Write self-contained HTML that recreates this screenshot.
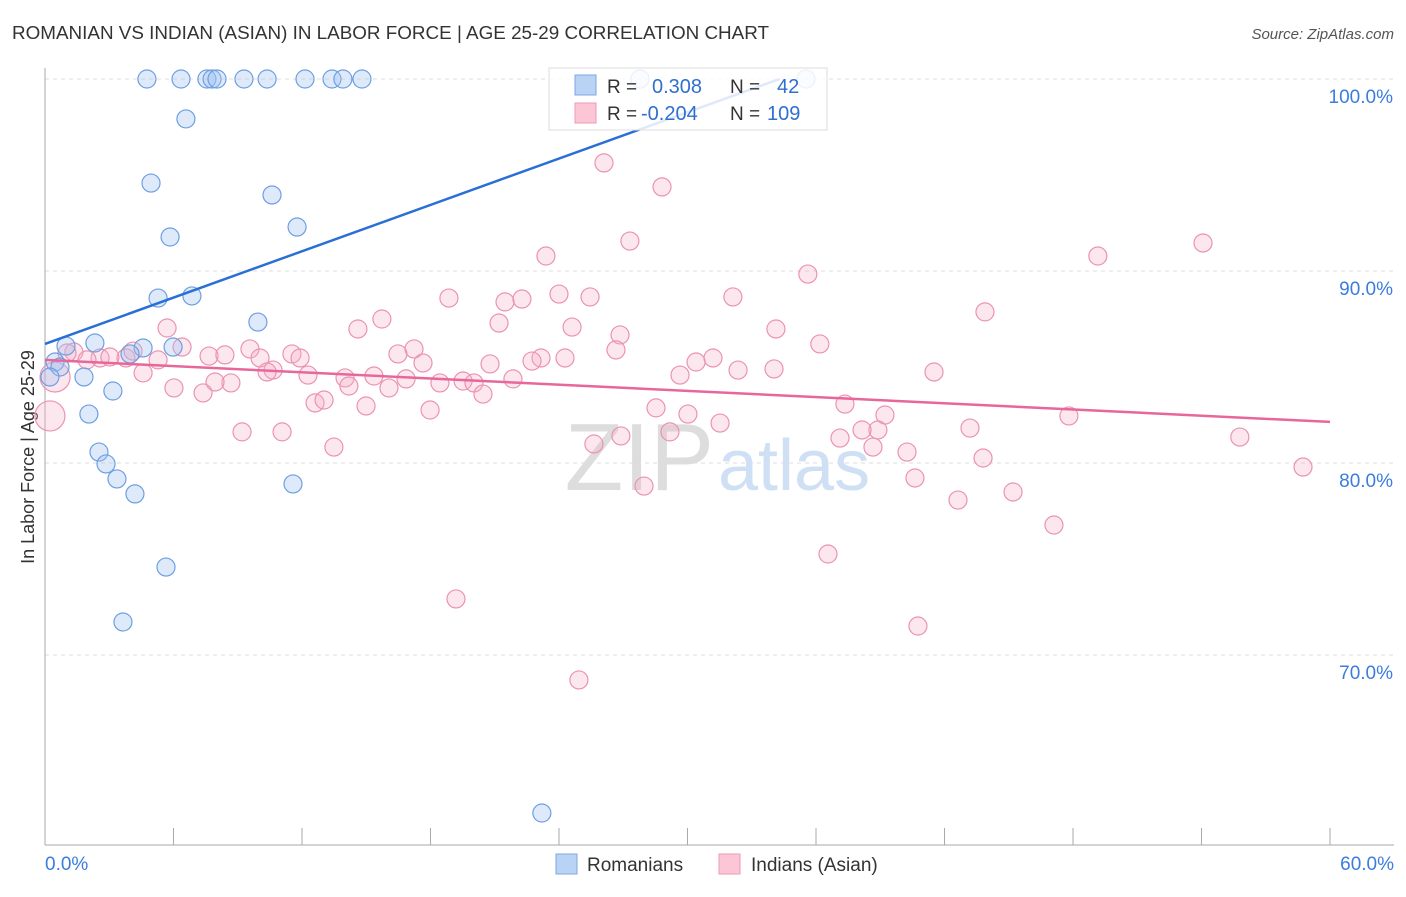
<!DOCTYPE html>
<html><head><meta charset="utf-8"><style>
body{margin:0;background:#fff;font-family:"Liberation Sans",sans-serif}
svg text{font-family:"Liberation Sans",sans-serif}
</style></head><body>
<svg id="chart" width="1406" height="892" xmlns="http://www.w3.org/2000/svg">
<text x="12" y="39" font-size="18.5" fill="#333" textLength="757" lengthAdjust="spacingAndGlyphs">ROMANIAN VS INDIAN (ASIAN) IN LABOR FORCE | AGE 25-29 CORRELATION CHART</text>
<text x="1394" y="39" font-size="15" fill="#555" font-style="italic" text-anchor="end">Source: ZipAtlas.com</text>
<text x="34" y="457" font-size="18" fill="#333" text-anchor="middle" transform="rotate(-90 34 457)">In Labor Force | Age 25-29</text>
<g id="grid"></g>
<g id="axes"></g>
<text x="714" y="490" font-size="96" fill="#ddd" text-anchor="end" font-family="Liberation Serif">ZIP</text>
<text x="718" y="490" font-size="72" fill="#cfe0f5">atlas</text>
<g id="pink"></g>
<g id="blue"></g>
<g id="trends"></g>
<g>
<rect x="549" y="68" width="278" height="62" fill="#fff" fill-opacity="0.85" stroke="#ddd"/>
<rect x="575" y="75" width="21" height="20" fill="#b9d3f5" stroke="#7aa7e3"/>
<rect x="575" y="103" width="21" height="20" fill="#fcc6d6" stroke="#eb9ab4"/>
<text x="607" y="93" font-size="19" fill="#333">R = </text><text x="652" y="93" font-size="20" fill="#2f6fd0">0.308</text>
<text x="730" y="93" font-size="19" fill="#333">N = </text><text x="777" y="93" font-size="20" fill="#2f6fd0">42</text>
<text x="607" y="120" font-size="19" fill="#333">R = </text><text x="641" y="120" font-size="20" fill="#2f6fd0">-0.204</text>
<text x="730" y="120" font-size="19" fill="#333">N = </text><text x="767" y="120" font-size="20" fill="#2f6fd0">109</text>
</g>
<g>
<rect x="556" y="854" width="21" height="20" fill="#b9d3f5" stroke="#7aa7e3"/>
<text x="587" y="871" font-size="19" fill="#333">Romanians</text>
<rect x="719" y="854" width="21" height="20" fill="#fcc6d6" stroke="#eb9ab4"/>
<text x="751" y="871" font-size="19" fill="#333">Indians (Asian)</text>
</g>
</svg>
<script>
const xTicksLabels=["0.0%","60.0%"];
const yTicks=[100,90,80,70];
const blueX=[4.76,6.35,7.56,7.80,8.03,9.29,10.37,12.14,13.40,13.91,14.80,27.78,35.53,6.58,4.95,10.60,11.77,5.84,5.28,6.86,9.94,4.58,5.98,2.33,0.98,3.97,0.47,0.70,1.82,0.23,3.17,2.05,2.52,2.85,3.36,4.20,11.58,5.65,3.64,23.20];
const blueY=[100,100,100,100,100,100,100,100,100,100,100,100,100,97.92,94.58,93.96,92.29,91.77,88.59,88.70,87.34,85.99,86.04,86.25,86.09,85.68,85.26,85.00,84.48,84.48,83.75,82.55,80.57,79.95,79.17,78.39,78.91,74.58,71.72,61.77];
const pinkX=[0.23,0.47,26.10,28.81,27.31,54.07,49.16,23.39,35.62,18.86,24.00,25.45,21.48,22.27,32.12,43.89,15.73,21.20,24.61,14.61,34.13,26.85,5.70,36.18,9.57,17.23,6.40,26.66,11.53,16.48,23.16,24.28,22.74,31.19,30.40,10.04,11.91,3.78,7.66,8.40,1.35,2.57,5.28,17.65,20.78,32.36,34.04,41.51,4.58,10.65,10.37,12.28,14.01,15.36,16.86,21.85,29.65,18.44,19.52,20.03,14.19,8.68,7.94,6.02,7.38,20.45,16.06,12.61,13.03,14.99,28.53,17.98,30.02,37.35,39.22,47.81,31.52,29.18,26.89,37.12,38.89,38.15,43.19,55.79,9.20,11.07,13.49,25.63,38.66,40.25,43.80,58.74,40.62,27.97,45.20,42.63,47.11,36.56,19.19,40.76,24.93,1.03,1.96,3.03,4.11];
const pinkY=[82.45,84.48,95.63,94.38,91.56,91.46,90.78,90.78,89.84,88.59,88.80,88.65,88.39,88.54,88.65,87.87,87.50,87.29,87.08,86.98,86.98,86.67,87.03,86.20,85.94,85.94,86.04,85.89,85.68,85.68,85.47,85.47,85.31,85.47,85.26,85.47,85.47,85.47,85.57,85.63,85.78,85.47,85.37,85.21,85.16,84.84,84.90,84.74,84.69,84.84,84.74,84.58,84.43,84.53,84.38,84.38,84.58,84.17,84.27,84.17,84.01,84.17,84.22,83.91,83.65,83.59,83.91,83.13,83.28,82.97,82.87,82.76,82.55,83.07,82.50,82.45,82.08,81.62,81.41,81.30,81.72,81.72,81.82,81.35,81.62,81.62,80.83,80.99,80.83,80.57,80.26,79.79,79.22,78.80,78.49,78.07,76.77,75.26,72.92,71.51,68.70,85.73,85.37,85.52,85.83];
const blueTrend=[[0,86.2],[34.3,100]];
const pinkTrend=[[0,85.37],[60,82.14]];
const NS="http://www.w3.org/2000/svg";
const X=v=>45+v/60*1285, Y=v=>79+(100-v)*19.2;
function mk(t,a,p){const e=document.createElementNS(NS,t);for(const k in a)e.setAttribute(k,a[k]);p.appendChild(e);return e;}
const grid=document.getElementById('grid'),axes=document.getElementById('axes');
yTicks.forEach(v=>{
 const l=mk('line',{x1:45,x2:1394,y1:Y(v),y2:Y(v),stroke:'#ddd','stroke-dasharray':'4,4'},grid);
 
 
 const t=mk('text',{x:1393,y:Y(v)+24,'font-size':19,fill:'#3b7ddd','text-anchor':'end'},axes);t.textContent=v.toFixed(1)+'%';
 
 
});
mk('line',{x1:45,x2:45,y1:68,y2:845,stroke:'#aaa'},axes);
mk('line',{x1:45,x2:1394,y1:845,y2:845,stroke:'#aaa'},axes);
for(let v=0;v<=60;v+=6){const tk=mk('line',{x1:X(v),x2:X(v),y1:828,y2:845,stroke:'#aaa'},axes);
 
 }
const t0=mk('text',{x:45,y:870,'font-size':19,fill:'#3b7ddd'},axes);t0.textContent=xTicksLabels[0];


const t1=mk('text',{x:1394,y:870,'font-size':19,fill:'#3b7ddd','text-anchor':'end'},axes);t1.textContent=xTicksLabels[1];


const pg=document.getElementById('pink');
pinkX.forEach((x,i)=>{const c=mk('circle',{cx:X(x),cy:Y(pinkY[i]),r:i<2?15:9,fill:'rgba(248,175,200,0.3)',stroke:'#eb93b0','stroke-width':1.2},pg);
 
 });
const bg=document.getElementById('blue');
blueX.forEach((x,i)=>{const c=mk('circle',{cx:X(x),cy:Y(blueY[i]),r:9,fill:'rgba(160,195,240,0.35)',stroke:'#6d9fe2','stroke-width':1.2},bg);
 
 });
const tg=document.getElementById('trends');
const bl=mk('line',{x1:X(blueTrend[0][0]),y1:Y(blueTrend[0][1]),x2:X(blueTrend[1][0]),y2:Y(blueTrend[1][1]),stroke:'#2a6fd6','stroke-width':2.5},tg);


const pl=mk('line',{x1:X(pinkTrend[0][0]),y1:Y(pinkTrend[0][1]),x2:X(pinkTrend[1][0]),y2:Y(pinkTrend[1][1]),stroke:'#e8679a','stroke-width':2.5},tg);


</script>
</body></html>
